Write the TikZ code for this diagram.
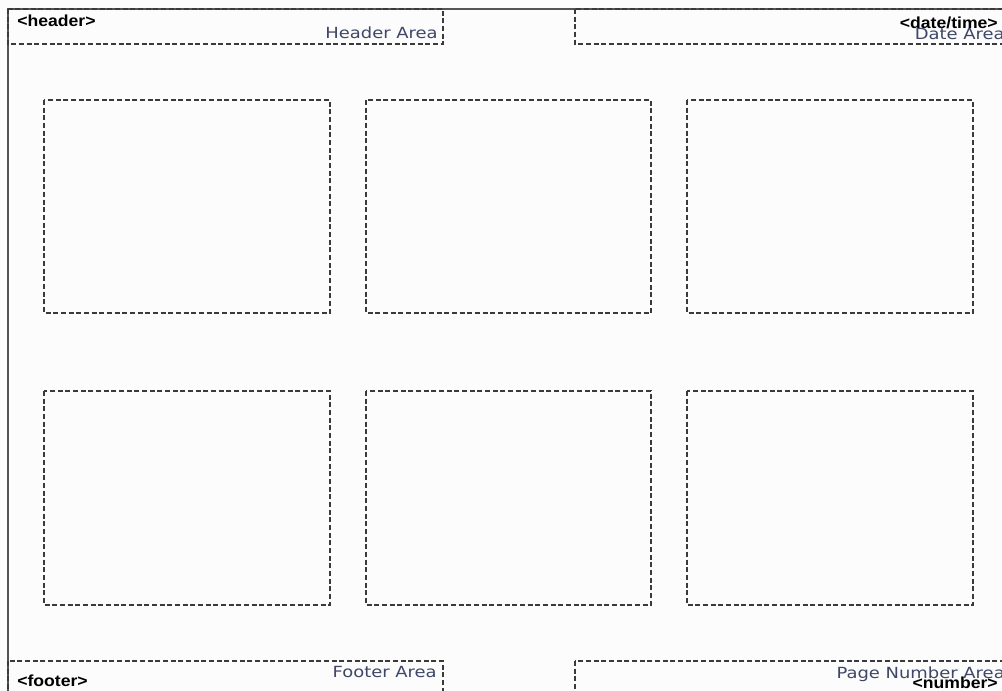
\documentclass[tikz,border=0pt]{standalone}
\usepackage{fontspec}
\setmainfont{DejaVu Sans}
\newfontfamily\tagfont{Liberation Sans}
\usepackage{graphicx}
\definecolor{bgc}{HTML}{FCFCFC}
\definecolor{framec}{HTML}{555555}
\definecolor{dashc}{HTML}{3A3A3A}
\definecolor{areac}{HTML}{3E4766}
\tikzset{
  areabox/.style={draw=dashc, line width=0.85pt, dash pattern=on 3.75pt off 2pt},
  slotbox/.style={draw=dashc, line width=0.85pt, dash pattern=on 3.75pt off 2pt},
  arealabel/.style={inner sep=0pt, text=areac, font=\fontsize{11.5}{13}\selectfont},
  taglabel/.style={inner sep=0pt, text=black, font=\tagfont\bfseries\fontsize{12}{14}\selectfont},
}
\begin{document}
\begin{tikzpicture}[x=0.75pt, y=-0.75pt]
\useasboundingbox (0,0) rectangle (1002,691);
\fill[bgc] (0,0) rectangle (1002,691);
\clip (0,0) rectangle (1002,691);
% page frame
\draw[framec, line width=1.1pt] (8,720) -- (8,9) -- (1030,9);
% areas
\draw[areabox] (8,9) rectangle (443,44);
\draw[areabox] (575,9) rectangle (1030,44);
\draw[areabox] (8,661) rectangle (443,720);
\draw[areabox] (575,661) rectangle (1030,720);
% slots
\draw[slotbox] (44,100) rectangle (330,313);
\draw[slotbox] (366,100) rectangle (651,313);
\draw[slotbox] (687,100) rectangle (973,313);
\draw[slotbox] (44,391) rectangle (330,605);
\draw[slotbox] (366,391) rectangle (651,605);
\draw[slotbox] (687,391) rectangle (973,605);
% area labels
\node[arealabel, anchor=base east] (ha) at (438,39) {\scalebox{1.17}[1]{Header Area}};
\node[arealabel, anchor=base east] (da) at (1005,40) {\scalebox{1.17}[1]{Date Area}};
\node[arealabel, anchor=base east] (fa) at (437,677) {\scalebox{1.17}[1]{Footer Area}};
\node[arealabel, anchor=base east] (pa) at (1005,678) {\scalebox{1.17}[1]{Page Number Area}};
% tags
\node[taglabel, anchor=base west] (ht) at (17,27) {\scalebox{1.1}[1]{<header>}};
\node[taglabel, anchor=base east] (dt) at (998,29) {\scalebox{1.1}[1]{<date/time>}};
\node[taglabel, anchor=base west] (ft) at (17,686) {\scalebox{1.1}[1]{<footer>}};
\node[taglabel, anchor=base east] (nt) at (998,688) {\scalebox{1.1}[1]{<number>}};
\end{tikzpicture}
\end{document}
